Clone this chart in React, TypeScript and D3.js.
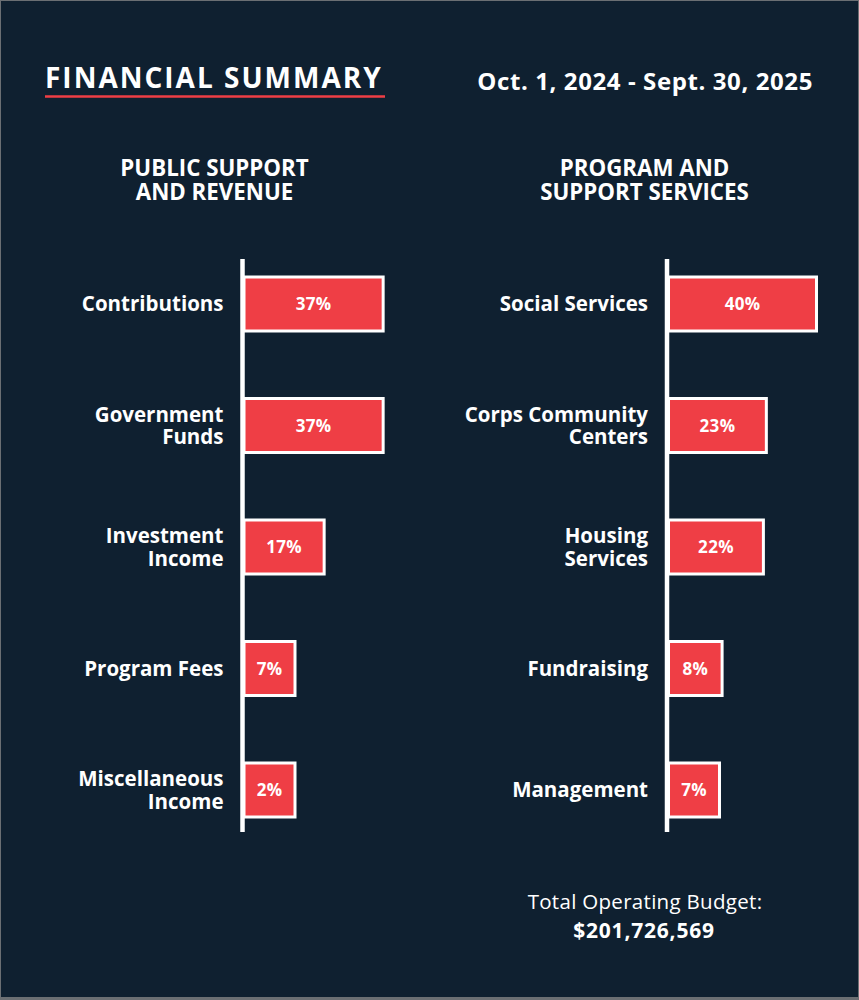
import React from "react";
import * as d3 from "d3";

const W = 859;
const H = 1000;

const titleText = "FINANCIAL SUMMARY";
const periodText = "Oct. 1, 2024 - Sept. 30, 2025";

const revenueHeader = ["PUBLIC SUPPORT", "AND REVENUE"];
const revenueCategories = [
  ["Contributions"],
  ["Government", "Funds"],
  ["Investment", "Income"],
  ["Program Fees"],
  ["Miscellaneous", "Income"],
];
const revenueValues = [37, 37, 17, 7, 2];

const servicesHeader = ["PROGRAM AND", "SUPPORT SERVICES"];
const servicesCategories = [
  ["Social Services"],
  ["Corps Community", "Centers"],
  ["Housing", "Services"],
  ["Fundraising"],
  ["Management"],
];
const servicesValues = [40, 23, 22, 8, 7];

const totalLabel = "Total Operating Budget:";
const totalValue = 201726569;

const BG = "#0f2030";
const RED = "#ef3e45";
const FONT = "'Open Sans', sans-serif";

const xScale = d3.scaleLinear().domain([0, 40]).range([30, 148]);
const MIN_W = 51;
const BAR_H = 54;

function Panel({
  axisX,
  header,
  headerX,
  cats,
  vals,
}: {
  axisX: number;
  header: string[];
  headerX: number;
  cats: string[][];
  vals: number[];
}) {
  const keys = cats.map((c) => c.join(" "));
  const y = d3.scalePoint<string>().domain(keys).range([304, 790]);
  const first = y(keys[0])!;
  const last = y(keys[keys.length - 1])!;
  return (
    <g>
      {header.map((h, i) => (
        <text
          key={h}
          x={headerX}
          y={176 + i * 24}
          textAnchor="middle"
          fill="#fff"
          fontFamily={FONT}
          fontWeight={700}
          fontSize={22.3}
        >
          {h}
        </text>
      ))}
      <line
        x1={axisX}
        x2={axisX}
        y1={first - 45}
        y2={last + 42}
        stroke="#fff"
        strokeWidth={4.5}
      />
      {keys.map((k, i) => {
        const cy = y(k)!;
        const w = Math.max(MIN_W, xScale(vals[i]));
        const lines = cats[i];
        return (
          <g key={k}>
            <rect
              x={axisX + 1.5}
              y={cy - BAR_H / 2}
              width={w}
              height={BAR_H}
              fill={RED}
              stroke="#fff"
              strokeWidth={3}
            />
            <text
              x={axisX + 1.5 + w / 2}
              y={cy}
              dy="0.36em"
              textAnchor="middle"
              fill="#fff"
              fontFamily={FONT}
              fontWeight={700}
              fontSize={17}
              letterSpacing={0.3}
            >
              {`${vals[i]}%`}
            </text>
            {lines.map((ln, j) => (
              <text
                key={ln}
                x={axisX - 19}
                y={cy + (j - (lines.length - 1) / 2) * 22.5}
                dy="0.36em"
                textAnchor="end"
                fill="#fff"
                fontFamily={FONT}
                fontWeight={700}
                fontSize={20.5}
              >
                {ln}
              </text>
            ))}
          </g>
        );
      })}
    </g>
  );
}

export default function App() {
  const fmt = d3.format("$,");
  return (
    <svg
      width={W}
      height={H}
      style={{ position: "absolute", left: 0, top: 0, display: "block" }}
    >
      <rect x={0} y={0} width={W} height={H} fill="#6b6f73" />
      <rect x={1} y={1} width={W - 2} height={H - 4} fill={BG} />
      <text
        x={45}
        y={88}
        fill="#fff"
        fontFamily={FONT}
        fontWeight={700}
        fontSize={28}
        letterSpacing={2}
      >
        {titleText}
      </text>
      <line x1={45} x2={385} y1={96.5} y2={96.5} stroke={RED} strokeWidth={2.5} />
      <text
        x={813}
        y={90}
        textAnchor="end"
        fill="#fff"
        fontFamily={FONT}
        fontWeight={700}
        fontSize={24}
        letterSpacing={0.6}
      >
        {periodText}
      </text>
      <Panel
        axisX={242.5}
        header={revenueHeader}
        headerX={214.5}
        cats={revenueCategories}
        vals={revenueValues}
      />
      <Panel
        axisX={667}
        header={servicesHeader}
        headerX={644.5}
        cats={servicesCategories}
        vals={servicesValues}
      />
      <text
        x={645}
        y={909}
        textAnchor="middle"
        fill="#fff"
        fontFamily={FONT}
        fontWeight={400}
        fontSize={20.5}
        letterSpacing={0.3}
      >
        {totalLabel}
      </text>
      <text
        x={644}
        y={938}
        textAnchor="middle"
        fill="#fff"
        fontFamily={FONT}
        fontWeight={700}
        fontSize={21}
        letterSpacing={0.8}
      >
        {fmt(totalValue)}
      </text>
    </svg>
  );
}
